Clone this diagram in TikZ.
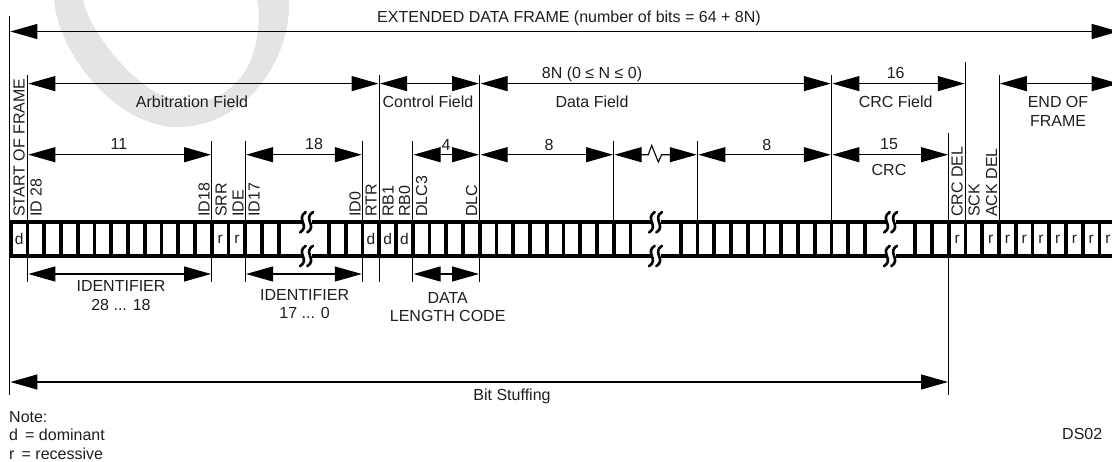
\documentclass[tikz,border=0pt]{standalone}
\usepackage{fontspec}
\setmainfont{Liberation Sans}
\usepackage{tikz}
\usetikzlibrary{arrows.meta, calc}
\definecolor{markgray}{RGB}{228, 228, 228}
\definecolor{inkgray}{RGB}{30, 30, 30}
\newcommand{\bitbreak}[1]{
  \foreach \yc in {222.3,256} {
    \fill[white] (#1-5,\yc-3) rectangle (#1+5,\yc+3);
    \foreach \dx in {-3.6,3.6} {
      \draw[brkline] (#1+\dx+2.8,\yc-10.2) .. controls (#1+\dx-7.5,\yc-3.5) and (#1+\dx+7.5,\yc+3.5) .. (#1+\dx-2.8,\yc+10.2);
    }
  }
}
\begin{document}
\begin{tikzpicture}[
  x=1pt, y=-1pt,
  dimline/.style={line width=1.1pt, {Triangle[length=27pt,width=15pt]}-{Triangle[length=27pt,width=15pt]}, shorten <=0.8pt, shorten >=0.8pt},
  thinline/.style={line width=1.1pt},
  barline/.style={line width=3.8pt},
  brkline/.style={line width=2.6pt, line cap=round},
  lbl/.style={inner sep=0pt, text=inkgray, font=\fontsize{16}{18.4}\selectfont, text height=11.4pt, text depth=0pt},
  lbltwo/.style={inner sep=0pt, text=inkgray, font=\fontsize{16}{18.4}\selectfont, align=center},
  vlbl/.style={inner sep=0pt, text=inkgray, font=\fontsize{16}{18.4}\selectfont, rotate=90, anchor=west},
  celllbl/.style={inner sep=0pt, text=inkgray, font=\fontsize{15.5}{16}\selectfont}
]
  \useasboundingbox (0,0) rectangle (1112,461);
  \clip (0,0) rectangle (1112,461);

  \fill[markgray, even odd rule]
    (54,-2) .. controls (56,50) and (115,127) .. (177,127)
    .. controls (245,127) and (292,60) .. (289,-2) -- cycle
    (83,-2) .. controls (88,30) and (130,82) .. (165,97)
    .. controls (200,112) and (235,95) .. (250,62)
    .. controls (258,42) and (261,20) .. (257,-2) -- cycle;

  \foreach \i in {0,...,65} {
    \pgfmathsetmacro{\bx}{10.8+16.75*\i}
    \coordinate (b\i) at (\bx,221);
  }
  \coordinate (sofl) at (9.6,221);
  \coordinate (endr) at (1119.5,221);
  \coordinate (frametop) at (0,222.3);
  \coordinate (framebot) at (0,256);
  \coordinate (rowa) at (0,31.5);
  \coordinate (rowb) at (0,83.6);
  \coordinate (rowc) at (0,154.7);
  \coordinate (rowd) at (0,274);
  \coordinate (rowe) at (0,382);
  \coordinate (topall) at (0,16);
  \coordinate (topcrc) at (0,61.7);
  \coordinate (topb) at (0,74.5);
  \coordinate (topc) at (0,140.5);
  \coordinate (topdel) at (0,132.7);
  \coordinate (lowtick) at (0,282);
  \coordinate (lowall) at (0,395);

  \draw[barline] (9,222.3) -- (endr |- frametop);
  \draw[barline] (9,256) -- (endr |- framebot);
  \foreach \i in {0,...,16,19,20,...,37,40,41,...,51,54,55,...,65} {
    \draw[barline] (b\i |- frametop) -- (b\i |- framebot);
  }
  \bitbreak{306.5}
  \bitbreak{655.5}
  \bitbreak{890.5}

  \foreach \i in {0,21,22,23} {
    \pgfmathsetmacro{\cx}{10.8+16.75*(\i+0.5)}
    \node[celllbl] (cell\i) at (\cx,238.5) {d};
  }
  \foreach \i in {12,13,56,58,59,60,61,62,63,64,65} {
    \pgfmathsetmacro{\cx}{10.8+16.75*(\i+0.5)}
    \node[celllbl] (cell\i) at (\cx,239.5) {r};
  }

  \draw[thinline] (sofl |- topall) -- (sofl |- lowall);
  \draw[thinline] (b56 |- topdel) -- (b56 |- lowall);
  \draw[thinline] (b57) -- (b57 |- topcrc);
  \foreach \i in {1,22,28,49,59} {
    \draw[thinline] (b\i) -- (b\i |- topb);
  }
  \foreach \i in {12,14,21,24,36,41} {
    \draw[thinline] (b\i) -- (b\i |- topc);
  }
  \foreach \i in {1,12,14,21,22,24,28} {
    \draw[thinline] (b\i |- framebot) -- (b\i |- lowtick);
  }

  \draw[dimline] (sofl |- rowa) -- (endr |- rowa);

  \draw[dimline] (b1 |- rowb) -- (b22 |- rowb);
  \draw[dimline] (b22 |- rowb) -- (b28 |- rowb);
  \draw[dimline] (b28 |- rowb) -- (b49 |- rowb);
  \draw[dimline] (b49 |- rowb) -- (b57 |- rowb);
  \draw[dimline] (b59 |- rowb) -- (endr |- rowb);

  \draw[dimline] (b1 |- rowc) -- (b12 |- rowc);
  \draw[dimline] (b14 |- rowc) -- (b21 |- rowc);
  \draw[dimline] (b24 |- rowc) -- (b28 |- rowc);
  \draw[dimline] (b28 |- rowc) -- (b36 |- rowc);
  \draw[dimline] (b36 |- rowc) -- ++(34.5,0) -- ++(3.4,-9.3) -- ++(6.6,16.6) -- ++(3.4,-7.3) -- (b41 |- rowc);
  \draw[dimline] (b41 |- rowc) -- (b49 |- rowc);
  \draw[dimline] (b49 |- rowc) -- (b56 |- rowc);

  \draw[dimline] (b1 |- rowd) -- (b12 |- rowd);
  \draw[dimline] (b14 |- rowd) -- (b21 |- rowd);
  \draw[dimline] (b24 |- rowd) -- (b28 |- rowd);

  \draw[dimline] (sofl |- rowe) -- (b56 |- rowe);

  \node[lbl] (allbits) at (569,17) {EXTENDED DATA FRAME (number of bits = 64 + 8N)};
  \node[lbl] (arbfield) at (192,102) {Arbitration Field};
  \node[lbl] (ctrlfield) at (428,102) {Control Field};
  \node[lbl] (datanum) at (592,72.7) {8N (0 ≤ N ≤ 0)};
  \node[lbl] (datafield) at (592,102) {Data Field};
  \node[lbl] (crcnum) at (895.7,72.7) {16};
  \node[lbl] (crcfield) at (895.7,102) {CRC Field};
  \node[lbltwo] (eof) at (1058,111.5) {END OF\\FRAME};
  \node[lbl] (idhi) at (119,144) {11};
  \node[lbl] (idlo) at (314,144) {18};
  \node[lbl] (dlcnum) at (446,145) {4};
  \node[lbl] (dataa) at (549,145) {8};
  \node[lbl] (datab) at (766.7,145) {8};
  \node[lbl] (crcbits) at (889,144) {15};
  \node[lbl] (crcname) at (889,170) {CRC};
  \node[lbltwo] (idhitext) at (121,295.7) {IDENTIFIER\\28 ... 18};
  \node[lbltwo] (idlotext) at (304.6,304) {IDENTIFIER\\17 ... 0};
  \node[lbltwo] (dlctext) at (447.7,307) {DATA\\LENGTH CODE};
  \node[lbl] (stuffing) at (512,395) {Bit Stuffing};
  \node[lbltwo, align=left, anchor=west] (note) at (9,435.5) {Note:\\d\, = dominant\\r\ \,= recessive};
  \node[lbl, anchor=west] (dsnum) at (1062,434) {DS02};

  \foreach \x/\t [count=\n] in {
    19/START OF FRAME, 36/ID 28, 204/ID18, 221/SRR, 238/IDE, 254/ID17,
    355/ID0, 371/RTR, 388/RB1, 404.7/RB0, 421.7/DLC3, 471.7/DLC,
    957/CRC DEL, 974/SCK, 991.7/ACK DEL} {
    \node[vlbl] (vert\n) at (\x,217) {\t};
  }
\end{tikzpicture}
\end{document}
